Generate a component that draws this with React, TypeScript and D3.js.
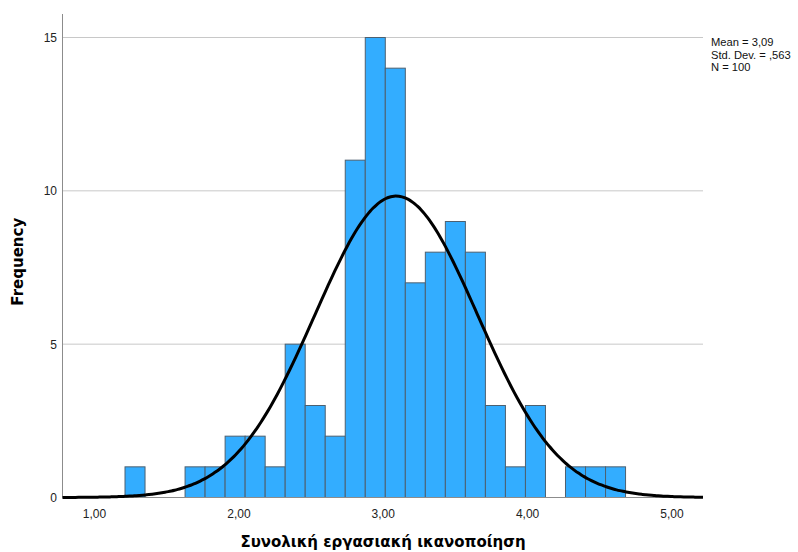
import { useEffect, useRef } from "react";
import * as d3 from "d3";

// histogram bins (SPSS auto binning), counts
const binStart = 1.211;
const binWidth = 0.1387;
const counts = [1, 0, 0, 1, 1, 2, 2, 1, 5, 3, 2, 11, 15, 14, 7, 8, 9, 8, 3, 1, 3, 0, 1, 1, 1];

const xTicks = [1, 2, 3, 4, 5];
const yTicks = [0, 5, 10, 15];

const mean = 3.09;
const stdDev = 0.563;
const n = 100;
const statLines = ["Mean = 3,09", "Std. Dev. = ,563", "N = 100"];

const xLabel = "Συνολική εργασιακή ικανοποίηση";
const yLabel = "Frequency";

const W = 798;
const H = 552;

export default function App() {
  const svgRef = useRef<SVGSVGElement>(null);

  useEffect(() => {
    if (!svgRef.current) return;
    const svg = d3.select(svgRef.current);
    svg.selectAll("*").remove();

    const left = 62.5;
    const right = 703;
    const top = 14;
    const bottom = 497.5;

    const x = d3.scaleLinear().domain([0.778, 5.215]).range([left, right]);
    const y = d3.scaleLinear().domain([0, 15]).range([bottom, 37.5]);

    const fmt = (v: number) => v.toFixed(2).replace(".", ",");

    // gridlines
    svg
      .append("g")
      .selectAll("line")
      .data(yTicks.filter((d) => d > 0))
      .join("line")
      .attr("x1", left)
      .attr("x2", right)
      .attr("y1", (d) => y(d))
      .attr("y2", (d) => y(d))
      .attr("stroke", "#c8c8c8")
      .attr("stroke-width", 1);

    // bars
    const bins = counts.map((c, i) => ({
      x0: binStart + i * binWidth,
      x1: binStart + (i + 1) * binWidth,
      c,
    }));
    svg
      .append("g")
      .selectAll("rect")
      .data(bins.filter((b) => b.c > 0))
      .join("rect")
      .attr("x", (d) => x(d.x0))
      .attr("y", (d) => y(d.c))
      .attr("width", (d) => x(d.x1) - x(d.x0))
      .attr("height", (d) => y(0) - y(d.c))
      .attr("fill", "#33adff")
      .attr("stroke", "#4d6070")
      .attr("stroke-width", 1);

    // axes lines
    svg
      .append("line")
      .attr("x1", left)
      .attr("x2", left)
      .attr("y1", top)
      .attr("y2", bottom)
      .attr("stroke", "#8c8c8c");
    svg
      .append("line")
      .attr("x1", left)
      .attr("x2", right)
      .attr("y1", bottom)
      .attr("y2", bottom)
      .attr("stroke", "#8c8c8c");

    // normal curve from the stated mean / sd
    const pts = d3.range(0, 201).map((i) => {
      const v = 0.778 + (i / 200) * (5.215 - 0.778);
      const z = (v - mean) / stdDev;
      const f = (n * binWidth) / (stdDev * Math.sqrt(2 * Math.PI)) * Math.exp(-0.5 * z * z);
      return [v, f] as [number, number];
    });
    const line = d3
      .line<[number, number]>()
      .x((d) => x(d[0]))
      .y((d) => y(d[1]))
      .curve(d3.curveMonotoneX);
    svg
      .append("path")
      .datum(pts)
      .attr("fill", "none")
      .attr("stroke", "#000")
      .attr("stroke-width", 3)
      .attr("d", line);

    // tick labels
    svg
      .append("g")
      .selectAll("text")
      .data(xTicks)
      .join("text")
      .attr("x", (d) => x(d))
      .attr("y", bottom + 20)
      .attr("text-anchor", "middle")
      .attr("font-family", "'Liberation Sans', Arial, sans-serif")
      .attr("font-size", 12)
      .attr("fill", "#222")
      .text((d) => fmt(d));

    svg
      .append("g")
      .selectAll("text")
      .data(yTicks)
      .join("text")
      .attr("x", 57)
      .attr("y", (d) => y(d) + 4.5)
      .attr("text-anchor", "end")
      .attr("font-family", "'Liberation Sans', Arial, sans-serif")
      .attr("font-size", 12)
      .attr("fill", "#222")
      .text((d) => String(d));

    // axis titles
    svg
      .append("text")
      .attr("x", 383)
      .attr("y", 547)
      .attr("text-anchor", "middle")
      .attr("font-family", "'DejaVu Sans', Verdana, sans-serif")
      .attr("font-weight", "bold")
      .attr("font-size", 15)
      .attr("fill", "#000")
      .text(xLabel);

    svg
      .append("text")
      .attr("transform", `translate(23, ${(top + bottom) / 2 + 6}) rotate(-90)`)
      .attr("text-anchor", "middle")
      .attr("font-family", "'DejaVu Sans', Verdana, sans-serif")
      .attr("font-weight", "bold")
      .attr("font-size", 15)
      .attr("fill", "#000")
      .text(yLabel);

    // stats box
    svg
      .append("g")
      .selectAll("text")
      .data(statLines)
      .join("text")
      .attr("x", 711)
      .attr("y", (_, i) => 46 + i * 12.5)
      .attr("font-family", "'Liberation Sans', Arial, sans-serif")
      .attr("font-size", 11.2)
      .attr("fill", "#111")
      .text((d) => d);
  }, []);

  return (
    <svg
      ref={svgRef}
      width={W}
      height={H}
      style={{ position: "absolute", left: 0, top: 0, background: "#fff" }}
    />
  );
}
